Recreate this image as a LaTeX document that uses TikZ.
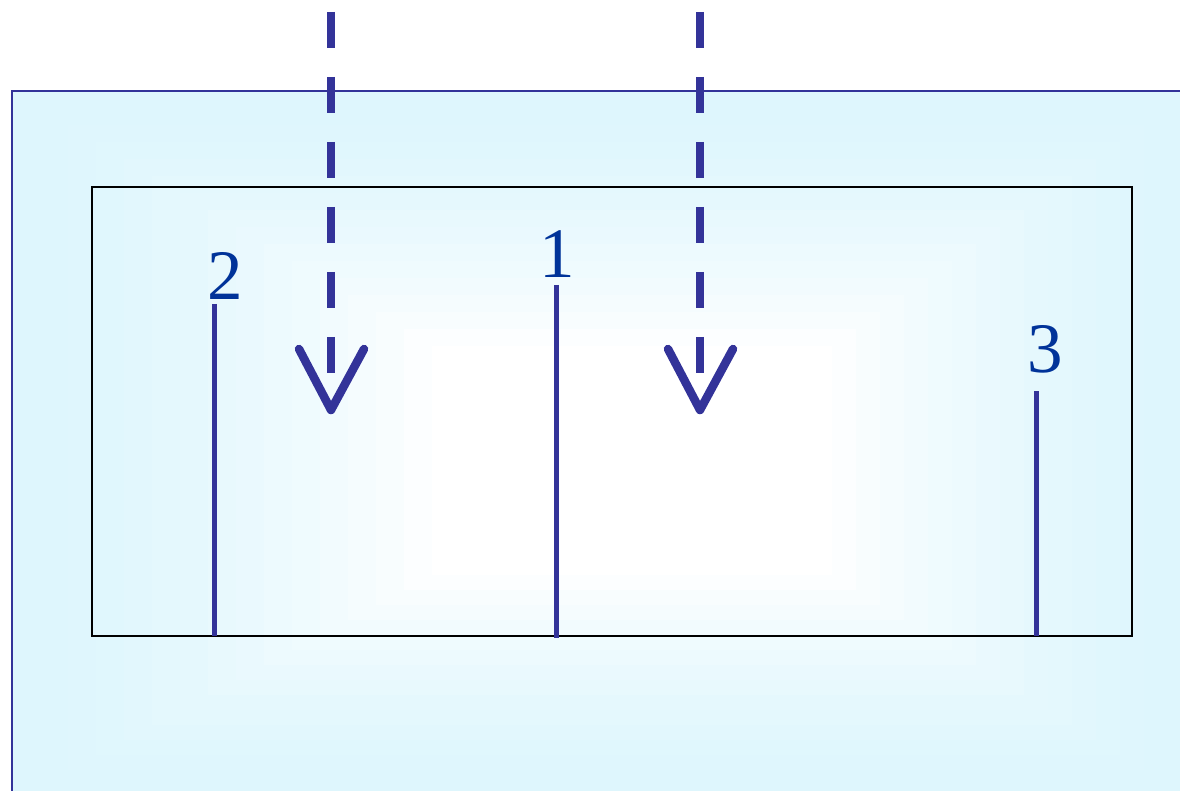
\documentclass[tikz,border=0pt]{standalone}
\usepackage{fontspec}
\setmainfont{Liberation Serif}
\newfontfamily\labelfont{Liberation Serif}
\usetikzlibrary{calc}
\definecolor{lineblue}{RGB}{51,51,153}
\definecolor{textblue}{RGB}{0,51,153}
\definecolor{bgcyan}{RGB}{222,246,253}
\tikzset{
  dasharrow/.style={lineblue, line width=8.5pt, dash pattern=on 36pt off 29pt},
  vhead/.style={lineblue, line width=8.5pt, line cap=round, line join=round},
  probe/.style={lineblue, line width=5pt},
  numlabel/.style={textblue, anchor=base, inner sep=0pt, font=\labelfont\fontsize{71}{80}\selectfont},
  frame/.style={black, line width=2pt}
}
\begin{document}
\begin{tikzpicture}[x=1pt,y=-1pt]
\useasboundingbox (0,0) rectangle (1180,791);
\clip (0,0) rectangle (1180,791);
\fill[white] (0,0) rectangle (1180,791);
% shaded background
\foreach \i in {0,...,15}{
  \pgfmathsetmacro{\p}{100-100*(\i/15)^1.6}
  \fill[bgcyan!\p!white] (12+\i*28,91+\i*17) rectangle (1192-\i*24,800-\i*15);
}
\draw[lineblue, line width=2.5pt] (12,800) -- (12,91) -- (1192,91);
% inner frame
\draw[frame] (92,187) rectangle (1132,636);
% probes with labels
\node[numlabel] (l2) at (225,300) {2};
\node[numlabel] (l1) at (557,278) {1};
\node[numlabel] (l3) at (1045,372) {3};
\coordinate (t2) at (214,304); \coordinate (b2) at (214,636);
\coordinate (t1) at (556,285); \coordinate (b1) at (556,638);
\coordinate (t3) at (1036,391); \coordinate (b3) at (1036,636);
\draw[probe] (t2) -- (b2);
\draw[probe] (t1) -- (b1);
\draw[probe] (t3) -- (b3);
% dashed arrows
\coordinate (a1s) at (331,12); \coordinate (a1e) at (331,373);
\coordinate (a2s) at (700,12); \coordinate (a2e) at (700,373);
\draw[dasharrow] (a1s) -- (a1e);
\draw[dasharrow] (a2s) -- (a2e);
\coordinate (h1) at (331,410); \coordinate (h2) at (700,410);
\draw[vhead] ($(h1)+(-32,-61)$) -- (h1) -- ($(h1)+(33,-61)$);
\draw[vhead] ($(h2)+(-32,-61)$) -- (h2) -- ($(h2)+(33,-61)$);
\end{tikzpicture}
\end{document}
